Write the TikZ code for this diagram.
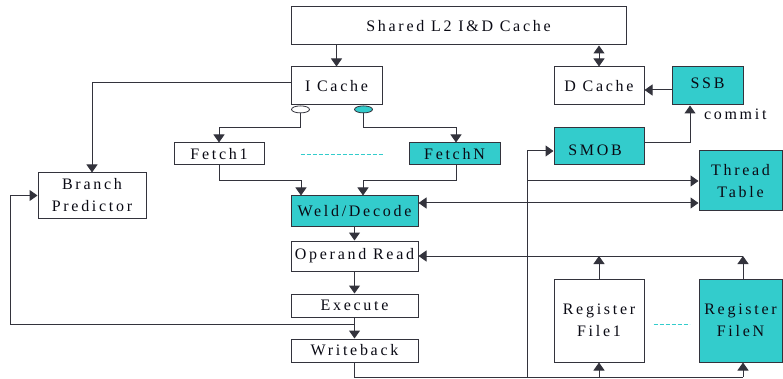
\documentclass[tikz,border=0pt]{standalone}
\usepackage{fontspec}
\setmainfont{Liberation Serif}[LetterSpace=17]
\usetikzlibrary{arrows.meta,calc,shapes.geometric}
\definecolor{tealfill}{HTML}{33CCCC}
\definecolor{wire}{HTML}{33333C}
\definecolor{ink}{HTML}{0A0A14}
\begin{document}
\begin{tikzpicture}[x=1pt,y=-1pt,
  every node/.style={font=\fontsize{16}{22}\selectfont, text=ink},
  box/.style={draw=wire, line width=1pt, fill=white, rectangle, inner sep=0pt, align=center},
  hot/.style={box, fill=tealfill},
  port/.style={draw=wire, line width=0.8pt, ellipse, inner sep=0pt, minimum width=18pt, minimum height=7pt},
  link/.style={draw=wire, line width=1pt},
  arr/.style={link, -{Triangle[length=8pt,width=11pt]}},
  dbl/.style={link, {Triangle[length=8pt,width=11pt]}-{Triangle[length=8pt,width=11pt]}},
  gap/.style={draw=tealfill, line width=0.8pt, dash pattern=on 4pt off 2pt}]
\useasboundingbox (0,0) rectangle (783,379);

% memory hierarchy
\node[box, minimum width=335pt, minimum height=38pt] (l2) at (458.5,26) {Shared L2 I\&D Cache};
\node[box, minimum width=91pt, minimum height=38pt] (icache) at (336.5,86) {I Cache};
\node[box, minimum width=90pt, minimum height=38pt] (dcache) at (599,86) {D Cache};
\node[hot, minimum width=71pt, minimum height=38pt] (ssb) at (707.5,86) {};
\node at (707.5,83) (ssbtxt) {SSB};
\node[hot, minimum width=90pt, minimum height=37pt] (smob) at (599,146.5) {};
\node at (595,150) (smobtxt) {SMOB};

% fetch ports under the instruction cache
\node[port, fill=white] (ov1) at (300.5,109.4) {};
\node[port, fill=tealfill] (ov2) at (363.5,109.4) {};

% front end
\node[box, minimum width=90pt, minimum height=22pt] (fetch1) at (219,154) {Fetch1};
\node[hot, minimum width=91pt, minimum height=22pt] (fetchN) at (454.5,154) {FetchN};
\node[box, minimum width=108pt, minimum height=45pt] (branch) at (92,195.5) {Branch\\Predictor};

% pipeline
\node[hot, minimum width=127pt, minimum height=30pt] (weld) at (354.5,211) {Weld/Decode};
\node[box, minimum width=127pt, minimum height=30pt] (operand) at (354.5,256) {Operand Read};
\node[box, minimum width=127pt, minimum height=23pt] (execute) at (354.5,305.5) {Execute};
\node[box, minimum width=127pt, minimum height=23pt] (writeback) at (354.5,350.5) {Writeback};

% per-thread state
\node[hot, minimum width=83pt, minimum height=60pt] (thread) at (740.5,181) {Thread\\Table};
\node[box, minimum width=90pt, minimum height=83pt] (rf1) at (599,320.5) {Register\\File1};
\node[hot, minimum width=83pt, minimum height=83pt] (rfN) at (740.5,320.5) {Register\\FileN};

% caches
\draw[arr] (icache.north |- l2.south) -- (icache.north);
\draw[dbl] (dcache.north |- l2.south) -- (dcache.north);
\draw[arr] ([yshift=-4pt]ssb.west) -- ([yshift=-4pt]dcache.east);
\draw[arr] ([yshift=3.5pt]smob.east) -| ([xshift=-17.5pt]ssb.south);
\node[anchor=base west] (commit) at (700.5,120) {commit};

% fetch
\draw[arr] ([yshift=3pt]icache.west) -| (branch.north);
\draw[arr] (ov1.south) -- (ov1.south |- 0,128) -| (fetch1.north);
\draw[arr] (ov2.south) -- (ov2.south |- 0,128) -| ([xshift=1.5pt]fetchN.north);
\draw[arr] (fetch1.south) -- (fetch1.south |- 0,181) -| ([xshift=-53.5pt]weld.north);
\draw[arr] ([xshift=1.5pt]fetchN.south) -- ([xshift=1.5pt]fetchN.south |- 0,181) -| ([xshift=8.5pt]weld.north);
\draw[gap] ([xshift=36pt]fetch1.east) -- ([xshift=-26pt]fetchN.west);

% pipeline flow
\draw[arr] (weld.south) -- (operand.north);
\draw[arr] (operand.south) -- (execute.north);
\draw[arr] (execute.south) -- (writeback.north);
\draw[arr] ([yshift=-7pt]execute.south) -| ([xshift=-27pt]branch.west) -- (branch.west);

% writeback bus
\coordinate (wb) at (writeback.south |- 0,377);
\coordinate (busN) at ([xshift=2.5pt]rfN.south |- wb);
\draw[link] (writeback.south) -- (wb) -- (busN);
\draw[arr] (rf1.south |- wb) -- (rf1.south);
\draw[arr] (busN) -- ([xshift=2.5pt]rfN.south);
\draw[arr] (527,377) |- ([yshift=-4.5pt]smob.west);
\draw[arr] (527,181) -- (thread.west);
\draw[dbl] ([yshift=8pt]weld.east) -- ([yshift=8pt]weld.east -| thread.west);

% register read
\draw[arr] ([xshift=2.5pt]rfN.north |- operand.east) -- (operand.east);
\draw[arr] (rf1.north) -- (rf1.north |- operand.east);
\draw[arr] ([xshift=2.5pt]rfN.north) -- ([xshift=2.5pt]rfN.north |- operand.east);
\draw[gap] ([xshift=9pt]rf1.east |- 0,324) -- ([xshift=-9pt]rfN.west |- 0,324);
\end{tikzpicture}
\end{document}
